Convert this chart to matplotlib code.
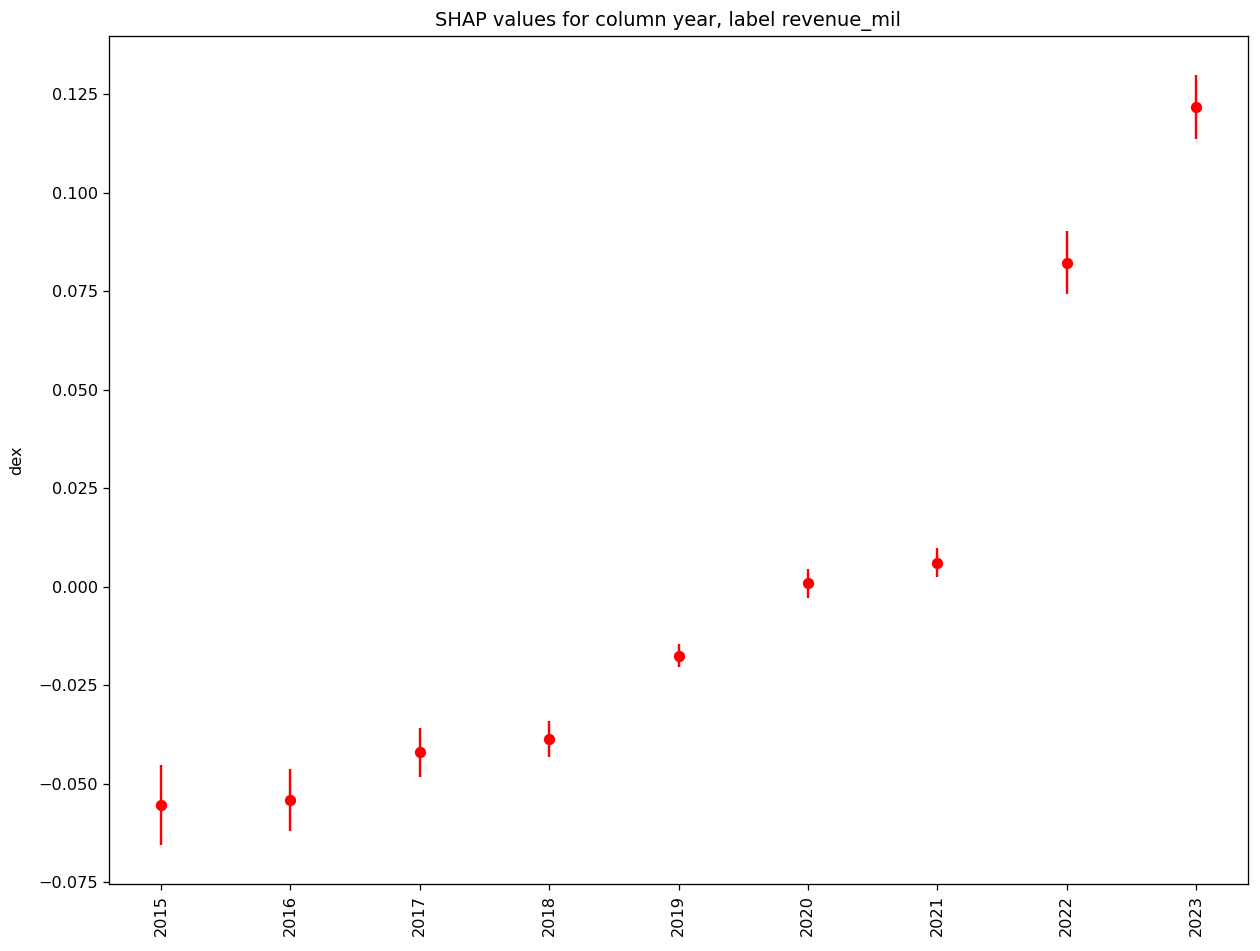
import matplotlib
matplotlib.use("Agg")
import matplotlib.pyplot as plt

years = ["2015", "2016", "2017", "2018", "2019", "2020", "2021", "2022", "2023"]
shap_mean = [-0.0555, -0.0542, -0.0420, -0.0387, -0.0175, 0.0009, 0.0061, 0.0822, 0.1218]
shap_err = [0.0102, 0.0078, 0.0062, 0.0046, 0.0029, 0.0037, 0.0036, 0.0080, 0.0082]

fig, ax = plt.subplots(figsize=(1260 / 116, 951 / 116), dpi=116)
fig.subplots_adjust(left=109.3 / 1260, right=1247.7 / 1260, top=1 - 36 / 951, bottom=1 - 884 / 951)

ax.errorbar(years, shap_mean, yerr=shap_err, fmt="o", color="red")
# title sits a little left of the axes centre in the original
ax.set_title("SHAP values for column year, label revenue_mil", x=0.4908)
ax.set_ylabel("dex", labelpad=9)
ax.tick_params(axis="x", labelrotation=90)

fig.savefig("out.png", dpi=116)
